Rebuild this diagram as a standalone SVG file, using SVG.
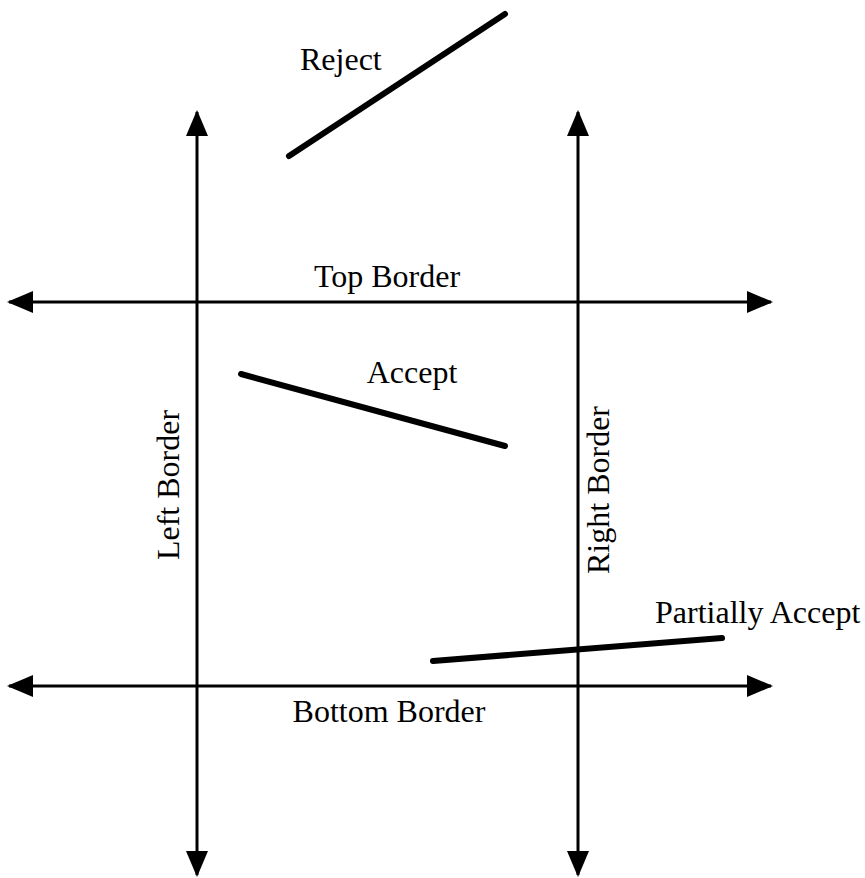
<svg xmlns="http://www.w3.org/2000/svg" width="865" height="878" viewBox="0 0 865 878">
<style>
.ax{stroke:#000;stroke-width:3;fill:none;marker-start:url(#ah);marker-end:url(#ah)}
.seg{stroke:#000;stroke-width:6;stroke-linecap:round;fill:none}
text{font-family:"Liberation Serif","Times New Roman",serif;font-size:32px;fill:#000}
</style>
<defs>
<marker id="ah" viewBox="0 0 26 22" refX="24" refY="11" markerWidth="26" markerHeight="22" markerUnits="userSpaceOnUse" orient="auto-start-reverse">
<path d="M0,0 L26,11 L0,22 Z" fill="#000"/>
</marker>
</defs>
<rect width="865" height="878" fill="#fff"/>
<g id="connectors">
<line class="ax" x1="197" y1="112" x2="197" y2="875"/>
<line class="ax" x1="578" y1="112" x2="578" y2="875"/>
<line class="ax" x1="9" y1="302" x2="771" y2="302"/>
<line class="ax" x1="9" y1="686" x2="771" y2="686"/>
</g>
<g id="reject">
<line class="seg" x1="289" y1="156" x2="505" y2="14"/>
<text x="300" y="70">Reject</text>
</g>
<g id="accept">
<line class="seg" x1="241" y1="374" x2="505" y2="446"/>
<text x="412" y="383" text-anchor="middle">Accept</text>
</g>
<g id="partially-accept">
<line class="seg" x1="433" y1="661" x2="722" y2="638"/>
<text x="655" y="623">Partially Accept</text>
</g>
<g id="top-border"><text x="387" y="287" text-anchor="middle">Top Border</text></g>
<g id="bottom-border"><text x="389" y="722" text-anchor="middle">Bottom Border</text></g>
<g id="left-border"><text transform="translate(179,485) rotate(-90)" text-anchor="middle">Left Border</text></g>
<g id="right-border"><text transform="translate(609,490) rotate(-90)" text-anchor="middle">Right Border</text></g>
</svg>
